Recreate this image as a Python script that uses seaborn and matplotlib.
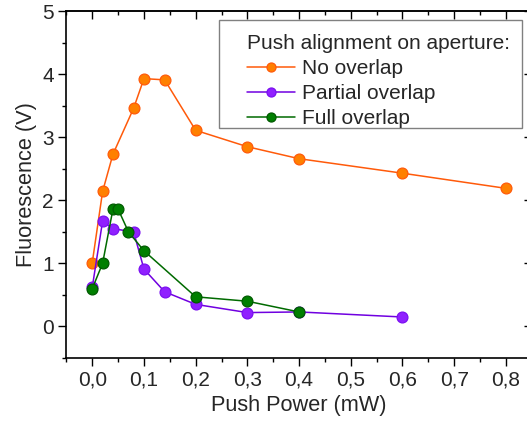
import matplotlib
matplotlib.use("Agg")
import matplotlib.pyplot as plt
import matplotlib.ticker as mticker
from matplotlib.patches import Rectangle
import seaborn as sns
import pandas as pd

sns.set_theme(style="white")
plt.rcParams['font.family'] = ['Liberation Sans', 'DejaVu Sans']

# Data
no_x = [0.0, 0.02, 0.04, 0.08, 0.10, 0.14, 0.20, 0.30, 0.40, 0.60, 0.80]
no_y = [1.01, 2.14, 2.73, 3.46, 3.93, 3.91, 3.11, 2.85, 2.66, 2.43, 2.19]
partial_x = [0.0, 0.02, 0.04, 0.08, 0.10, 0.14, 0.20, 0.30, 0.40, 0.60]
partial_y = [0.62, 1.67, 1.55, 1.50, 0.91, 0.55, 0.35, 0.22, 0.23, 0.15]
full_x = [0.0, 0.02, 0.04, 0.05, 0.07, 0.10, 0.20, 0.30, 0.40]
full_y = [0.60, 1.00, 1.86, 1.86, 1.50, 1.20, 0.47, 0.40, 0.23]
series_labels = ["No overlap", "Partial overlap", "Full overlap"]
legend_title = "Push alignment on aperture:"
x_label = "Push Power (mW)"
y_label = "Fluorescence (V)"

styles = [
    dict(color="#FF5A0A", mfc="#FF8000", mec="#FF5A0A"),
    dict(color="#7000E0", mfc="#9020FF", mec="#7A10F0"),
    dict(color="#006A00", mfc="#007F00", mec="#005A00"),
]

fig = plt.figure(figsize=(5.27, 4.23), dpi=100)
ax = fig.add_axes([0.126, 0.1537, 0.883, 0.820])

for xs, ys, lab, st in zip([no_x, partial_x, full_x], [no_y, partial_y, full_y], series_labels, styles):
    df = pd.DataFrame({"x": xs, "y": ys})
    sns.lineplot(data=df, x="x", y="y", ax=ax, sort=False, color=st["color"], lw=1.1,
                 marker="o", markersize=7.8, markerfacecolor=st["mfc"],
                 markeredgecolor=st["mec"], markeredgewidth=0.9, label=lab)

ax.set_xlim(-0.05, 0.85)
ax.set_ylim(-0.5, 5)
ax.xaxis.set_major_locator(mticker.MultipleLocator(0.1))
ax.xaxis.set_minor_locator(mticker.MultipleLocator(0.05))
ax.yaxis.set_major_locator(mticker.MultipleLocator(1))
ax.yaxis.set_minor_locator(mticker.MultipleLocator(0.5))
ax.xaxis.set_major_formatter(mticker.FuncFormatter(lambda v, p: f"{v:.1f}".replace(".", ",").replace("-0,0", "0,0")))
ax.yaxis.set_major_formatter(mticker.FuncFormatter(lambda v, p: f"{v:.0f}"))

for s in ax.spines.values():
    s.set_visible(True)
    s.set_color("black")
    s.set_linewidth(1.2)

ax.tick_params(which="both", direction="out", color="black", width=1.0, bottom=True, left=True,
               top=False, right=False)
ax.tick_params(which="major", length=6, labelsize=15, pad=3)
ax.tick_params(which="minor", length=3)

secx = ax.secondary_xaxis("top")
secx.xaxis.set_major_locator(mticker.MultipleLocator(0.1))
secx.xaxis.set_minor_locator(mticker.MultipleLocator(0.05))
secx.tick_params(which="both", direction="in", labeltop=False, width=1.0, color="black")
secx.tick_params(which="major", length=6)
secx.tick_params(which="minor", length=3)
secx.spines["top"].set_linewidth(1.2)
secy = ax.secondary_yaxis("right")
secy.yaxis.set_major_locator(mticker.MultipleLocator(1))
secy.yaxis.set_minor_locator(mticker.MultipleLocator(0.5))
secy.tick_params(which="both", direction="in", labelright=False, width=1.0, color="black")
secy.tick_params(which="major", length=6)
secy.tick_params(which="minor", length=3)

ax.set_xlabel(x_label, fontsize=15.7, labelpad=4)
ax.set_ylabel(y_label, fontsize=15.7, labelpad=4)

leg = ax.legend(loc="upper left", bbox_to_anchor=(0.3875, 0.933), frameon=False,
                title=legend_title, alignment="left", fontsize=15, title_fontsize=15,
                handlelength=2.3, handletextpad=0.35, labelspacing=0.29, borderpad=0,
                borderaxespad=0)
leg.get_title().set_position((0, 0))
for h in leg.legend_handles:
    h.set_markersize(6.5)
ax.add_patch(Rectangle((0.328, 0.663), 0.651, 0.311, transform=ax.transAxes,
                       fill=False, edgecolor="#808080", lw=1.0, zorder=5))

fig.savefig("out.png", dpi=100)
